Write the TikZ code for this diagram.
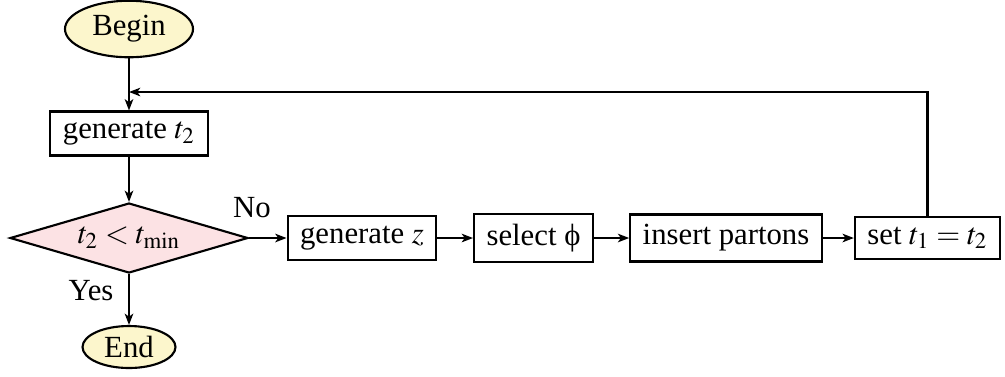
\documentclass[tikz,border=0pt]{standalone}
\usepackage{mathptmx}
\usepackage[no-math]{fontspec}
\setmainfont{Liberation Serif}
\usetikzlibrary{shapes.geometric,arrows.meta}
\definecolor{termfill}{RGB}{252,246,204}
\definecolor{decfill}{RGB}{252,226,228}
\begin{document}
\begin{tikzpicture}[x=0.4pt,y=-0.4pt,
  font=\fontsize{12.3}{14}\selectfont,
  every path/.style={line width=0.85pt},
  term/.style={ellipse,draw,fill=termfill,inner sep=0pt},
  procbox/.style={rectangle,draw,inner xsep=5pt,inner ysep=4pt},
  decision/.style={diamond,draw,fill=decfill,aspect=3.4,inner sep=0pt,minimum width=95.2pt,minimum height=28pt},
  conn/.style={-{Stealth[length=4.5pt,width=3.4pt,inset=1.2pt]}},
  lab/.style={inner sep=0pt}]
\useasboundingbox (0,0) rectangle (1005,376);
\node[term,minimum width=51.2pt,minimum height=22.6pt] (begin) at (129,29) {Begin};
\node[procbox] (gent) at (129,133.5) {generate $t_2$};
\node[decision] (dec) at (129,238) {$t_2 < t_{\min}$};
\node[term,minimum width=37.2pt,minimum height=16.8pt] (end) at (129,347) {End};
\node[procbox] (genz) at (362,238) {generate $z$};
\node[procbox] (sel) at (533.5,238) {select ϕ};
\node[procbox] (ins) at (726,238) {insert partons};
\node[procbox] (set) at (927.5,238) {set $t_1 = t_2$};
\node[lab] (no) at (252,208) {No};
\node[lab] (yes) at (91,291) {Yes};
\coordinate (fb) at (129,92);
\draw[conn] (begin) -- (gent);
\draw[conn] (gent) -- (dec);
\draw[conn] (dec) -- (end);
\draw[conn] (dec) -- (genz);
\draw[conn] (genz) -- (sel);
\draw[conn] (sel) -- (ins);
\draw[conn] (ins) -- (set);
\draw[conn] (set.north) |- (fb);
\end{tikzpicture}
\end{document}
